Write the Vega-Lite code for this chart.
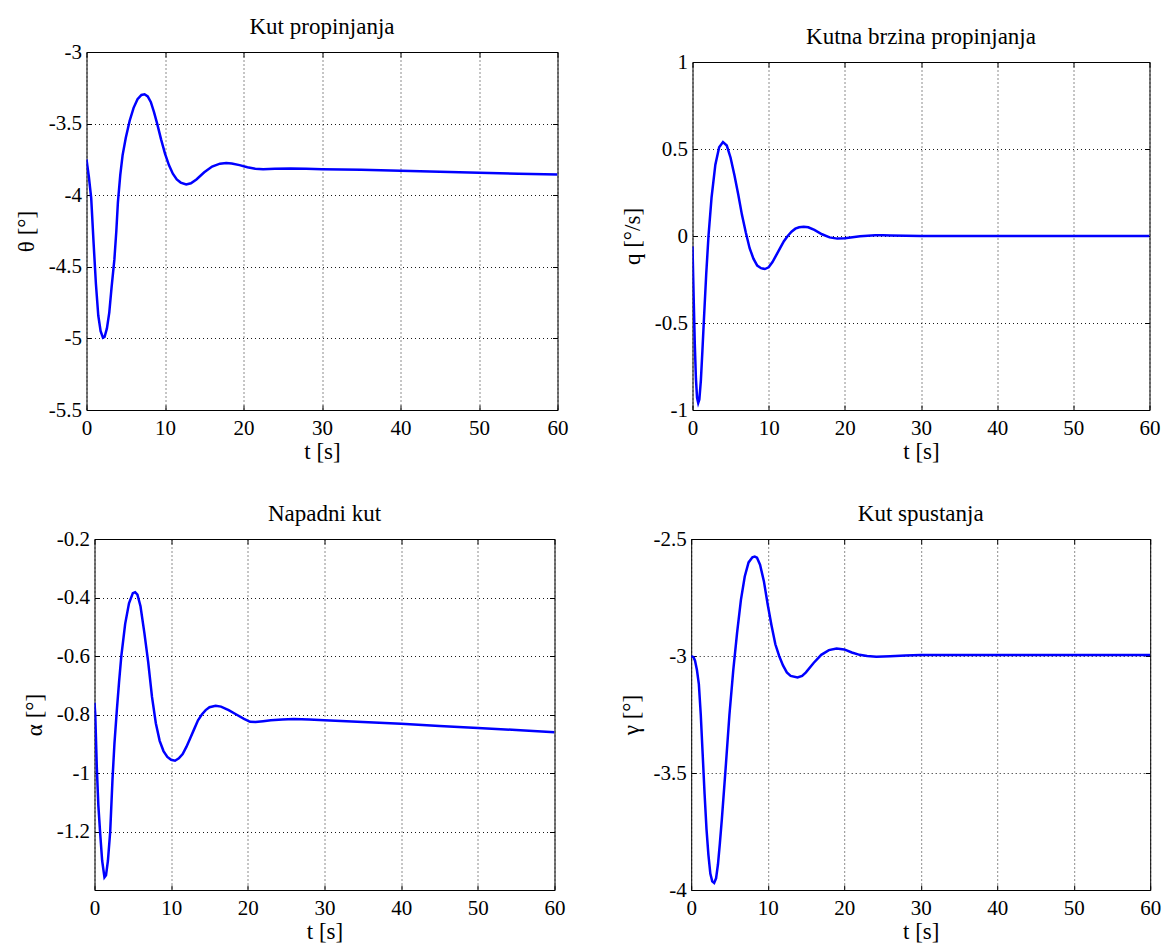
{
  "$schema": "https://vega.github.io/schema/vega-lite/v6.json",
  "padding": {"left": 14.5, "top": 15, "right": 0, "bottom": 0},
  "background": "white",
  "config": {
    "font": "Liberation Serif",
    "view": {"stroke": "#000", "strokeWidth": 1},
    "axis": {
      "domain": false,
      "grid": false,
      "labelFont": "Liberation Serif",
      "labelFontSize": 21,
      "labelColor": "#000",
      "labelFlush": false,
      "labelOverlap": false,
      "titleFont": "Liberation Serif",
      "titleFontSize": 23,
      "titleFontWeight": "normal",
      "titleColor": "#000",
      "tickColor": "#000",
      "tickSize": -5,
      "tickWidth": 1,
      "gridColor": "#000",
      "gridDash": [1, 3],
      "gridOpacity": 0.9,
      "gridWidth": 1
    },
    "axisX": {"labelPadding": 12, "titlePadding": 2},
    "axisY": {"labelPadding": 10, "titlePadding": 9.5},
    "title": {"font": "Liberation Serif", "fontSize": 23, "fontWeight": "normal", "color": "#000", "baseline": "alphabetic", "offset": 2, "frame": "group"}
  },
  "datasets": {
    "theta": [
      {"t": 0, "v": -3.75}, {"t": 0.3, "v": -3.87}, {"t": 0.6, "v": -4.02}, {"t": 0.9, "v": -4.33}, {"t": 1.2, "v": -4.62},
      {"t": 1.5, "v": -4.84}, {"t": 1.8, "v": -4.95}, {"t": 2.1, "v": -4.995}, {"t": 2.3, "v": -4.99}, {"t": 2.6, "v": -4.93},
      {"t": 2.9, "v": -4.82}, {"t": 3.2, "v": -4.64}, {"t": 3.55, "v": -4.45}, {"t": 3.8, "v": -4.25}, {"t": 4.0, "v": -4.05},
      {"t": 4.3, "v": -3.86}, {"t": 4.6, "v": -3.72}, {"t": 5.0, "v": -3.6}, {"t": 5.5, "v": -3.48}, {"t": 6.0, "v": -3.39},
      {"t": 6.5, "v": -3.33}, {"t": 7.0, "v": -3.3}, {"t": 7.4, "v": -3.295}, {"t": 7.8, "v": -3.31}, {"t": 8.2, "v": -3.35},
      {"t": 8.6, "v": -3.42}, {"t": 9.0, "v": -3.5}, {"t": 9.5, "v": -3.61}, {"t": 10.0, "v": -3.71}, {"t": 10.5, "v": -3.79},
      {"t": 11.0, "v": -3.85}, {"t": 11.5, "v": -3.89}, {"t": 12.0, "v": -3.912}, {"t": 12.7, "v": -3.925}, {"t": 13.3, "v": -3.917},
      {"t": 14, "v": -3.89}, {"t": 15, "v": -3.84}, {"t": 16, "v": -3.8}, {"t": 17, "v": -3.78}, {"t": 17.8, "v": -3.775},
      {"t": 18.5, "v": -3.778}, {"t": 19.5, "v": -3.79}, {"t": 20.5, "v": -3.805}, {"t": 21.5, "v": -3.815}, {"t": 22.5, "v": -3.818},
      {"t": 24, "v": -3.815}, {"t": 26, "v": -3.813}, {"t": 28, "v": -3.815}, {"t": 30, "v": -3.818}, {"t": 35, "v": -3.823},
      {"t": 40, "v": -3.83}, {"t": 45, "v": -3.836}, {"t": 50, "v": -3.843}, {"t": 55, "v": -3.85}, {"t": 60, "v": -3.856}
    ],
    "q": [
      {"t": 0, "v": -0.06}, {"t": 0.15, "v": -0.35}, {"t": 0.3, "v": -0.62}, {"t": 0.45, "v": -0.82}, {"t": 0.6, "v": -0.93},
      {"t": 0.75, "v": -0.96}, {"t": 0.9, "v": -0.94}, {"t": 1.1, "v": -0.83}, {"t": 1.3, "v": -0.66}, {"t": 1.5, "v": -0.48},
      {"t": 1.8, "v": -0.22}, {"t": 2.1, "v": 0.0}, {"t": 2.5, "v": 0.22}, {"t": 3.0, "v": 0.41}, {"t": 3.5, "v": 0.51},
      {"t": 4.0, "v": 0.54}, {"t": 4.5, "v": 0.52}, {"t": 5.0, "v": 0.45}, {"t": 5.5, "v": 0.35}, {"t": 6.0, "v": 0.24},
      {"t": 6.5, "v": 0.12}, {"t": 7.0, "v": 0.02}, {"t": 7.5, "v": -0.07}, {"t": 8.0, "v": -0.13}, {"t": 8.5, "v": -0.17},
      {"t": 9.0, "v": -0.185}, {"t": 9.5, "v": -0.19}, {"t": 10.0, "v": -0.18}, {"t": 10.5, "v": -0.15}, {"t": 11.0, "v": -0.11},
      {"t": 11.5, "v": -0.07}, {"t": 12.0, "v": -0.03}, {"t": 12.5, "v": 0.0}, {"t": 13.0, "v": 0.025}, {"t": 13.5, "v": 0.042},
      {"t": 14.0, "v": 0.05}, {"t": 14.6, "v": 0.053}, {"t": 15.2, "v": 0.05}, {"t": 16.0, "v": 0.035}, {"t": 17.0, "v": 0.01},
      {"t": 18.0, "v": -0.008}, {"t": 19.0, "v": -0.015}, {"t": 20.0, "v": -0.013}, {"t": 21.0, "v": -0.007}, {"t": 22.0, "v": -0.002},
      {"t": 23.0, "v": 0.002}, {"t": 24.0, "v": 0.004}, {"t": 25.0, "v": 0.004}, {"t": 26.0, "v": 0.003}, {"t": 28.0, "v": 0.001},
      {"t": 30, "v": 0}, {"t": 40, "v": 0}, {"t": 50, "v": 0}, {"t": 60, "v": 0}
    ],
    "alpha": [
      {"t": 0, "v": -0.76}, {"t": 0.1, "v": -0.8}, {"t": 0.3, "v": -0.98}, {"t": 0.5, "v": -1.11}, {"t": 0.75, "v": -1.21},
      {"t": 1.0, "v": -1.3}, {"t": 1.3, "v": -1.357}, {"t": 1.5, "v": -1.35}, {"t": 1.75, "v": -1.3}, {"t": 2.05, "v": -1.2},
      {"t": 2.35, "v": -1.02}, {"t": 2.6, "v": -0.9}, {"t": 2.9, "v": -0.79}, {"t": 3.2, "v": -0.69}, {"t": 3.5, "v": -0.6},
      {"t": 4.0, "v": -0.49}, {"t": 4.5, "v": -0.42}, {"t": 5.0, "v": -0.385}, {"t": 5.3, "v": -0.382}, {"t": 5.6, "v": -0.39},
      {"t": 6.0, "v": -0.43}, {"t": 6.5, "v": -0.52}, {"t": 7.0, "v": -0.62}, {"t": 7.5, "v": -0.74}, {"t": 8.0, "v": -0.83},
      {"t": 8.5, "v": -0.89}, {"t": 9.0, "v": -0.925}, {"t": 9.5, "v": -0.945}, {"t": 10.0, "v": -0.955}, {"t": 10.5, "v": -0.958},
      {"t": 11.0, "v": -0.95}, {"t": 11.5, "v": -0.935}, {"t": 12.0, "v": -0.91}, {"t": 12.5, "v": -0.88}, {"t": 13, "v": -0.85},
      {"t": 13.5, "v": -0.82}, {"t": 14, "v": -0.8}, {"t": 14.5, "v": -0.785}, {"t": 15.0, "v": -0.775}, {"t": 15.8, "v": -0.77},
      {"t": 16.5, "v": -0.773}, {"t": 17.5, "v": -0.785}, {"t": 18.5, "v": -0.8}, {"t": 19.5, "v": -0.815}, {"t": 20.3, "v": -0.825},
      {"t": 21, "v": -0.826}, {"t": 22, "v": -0.823}, {"t": 23, "v": -0.82}, {"t": 24.5, "v": -0.817}, {"t": 26, "v": -0.815},
      {"t": 28, "v": -0.817}, {"t": 30, "v": -0.82}, {"t": 35, "v": -0.826}, {"t": 40, "v": -0.832}, {"t": 45, "v": -0.839},
      {"t": 50, "v": -0.846}, {"t": 55, "v": -0.853}, {"t": 60, "v": -0.861}
    ],
    "gamma": [
      {"t": 0, "v": -3.0}, {"t": 0.3, "v": -3.005}, {"t": 0.5, "v": -3.02}, {"t": 0.75, "v": -3.06}, {"t": 1.0, "v": -3.12},
      {"t": 1.25, "v": -3.25}, {"t": 1.5, "v": -3.42}, {"t": 1.75, "v": -3.59}, {"t": 2.0, "v": -3.74}, {"t": 2.25, "v": -3.85},
      {"t": 2.5, "v": -3.93}, {"t": 2.75, "v": -3.963}, {"t": 3.0, "v": -3.97}, {"t": 3.25, "v": -3.95}, {"t": 3.5, "v": -3.89},
      {"t": 3.75, "v": -3.8}, {"t": 4.0, "v": -3.7}, {"t": 4.5, "v": -3.48}, {"t": 5.0, "v": -3.25}, {"t": 5.5, "v": -3.06},
      {"t": 6.0, "v": -2.9}, {"t": 6.5, "v": -2.76}, {"t": 7.0, "v": -2.66}, {"t": 7.5, "v": -2.6}, {"t": 8.0, "v": -2.578},
      {"t": 8.3, "v": -2.575}, {"t": 8.6, "v": -2.58}, {"t": 9.0, "v": -2.61}, {"t": 9.5, "v": -2.68}, {"t": 10.0, "v": -2.78},
      {"t": 10.5, "v": -2.87}, {"t": 11.0, "v": -2.95}, {"t": 11.5, "v": -3.0}, {"t": 12.0, "v": -3.04}, {"t": 12.5, "v": -3.07},
      {"t": 13.0, "v": -3.085}, {"t": 13.9, "v": -3.092}, {"t": 14.5, "v": -3.085}, {"t": 15.0, "v": -3.07}, {"t": 16.0, "v": -3.03},
      {"t": 17.0, "v": -2.995}, {"t": 18.0, "v": -2.975}, {"t": 19.0, "v": -2.968}, {"t": 20.0, "v": -2.972}, {"t": 21.0, "v": -2.985},
      {"t": 22.0, "v": -2.995}, {"t": 23.0, "v": -3.0}, {"t": 24.2, "v": -3.003}, {"t": 26.0, "v": -3.001}, {"t": 28, "v": -2.998},
      {"t": 30, "v": -2.996}, {"t": 40, "v": -2.996}, {"t": 50, "v": -2.996}, {"t": 60, "v": -2.996}
    ]
  },
  "vconcat": [
    {
      "hconcat": [
        {
          "width": 471, "height": 358,
          "title": "Kut propinjanja",
          "data": {"name": "theta"},
          "layer": [
            {
              "mark": {"type": "line", "color": "#0000ff", "strokeWidth": 2.5, "clip": true},
              "encoding": {
                "x": {"field": "t", "type": "quantitative", "scale": {"domain": [0, 60], "nice": false}, "axis": {"orient": "bottom", "title": "t [s]", "grid": true, "values": [0, 10, 20, 30, 40, 50, 60], "labelExpr": "datum.value < 0 ? '-' + format(-datum.value, '~g') : format(datum.value, '~g')"}},
                "y": {"field": "v", "type": "quantitative", "scale": {"domain": [-5.5, -3], "nice": false, "zero": false}, "axis": {"orient": "left", "title": "θ [°]", "grid": true, "values": [-5.5, -5, -4.5, -4, -3.5, -3], "labelExpr": "datum.value < 0 ? '-' + format(-datum.value, '~g') : format(datum.value, '~g')"}}
              }
            },
            {
              "mark": {"type": "line", "opacity": 0},
              "encoding": {
                "x": {"field": "t", "type": "quantitative", "scale": {"domain": [0, 60], "nice": false}, "axis": {"orient": "top", "title": null, "labels": false, "grid": false, "values": [0, 10, 20, 30, 40, 50, 60]}},
                "y": {"field": "v", "type": "quantitative", "scale": {"domain": [-5.5, -3], "nice": false, "zero": false}, "axis": {"orient": "right", "title": null, "labels": false, "grid": false, "values": [-5.5, -5, -4.5, -4, -3.5, -3]}}
              }
            }
          ],
          "resolve": {"axis": {"x": "independent", "y": "independent"}}
        },
        {
          "vconcat": [
            {"width": 457, "height": 10, "data": {"values": []}, "mark": "point", "encoding": {}, "view": {"stroke": null}},
            {
              "width": 457, "height": 348,
              "title": "Kutna brzina propinjanja",
              "data": {"name": "q"},
              "layer": [
                {
                  "mark": {"type": "line", "color": "#0000ff", "strokeWidth": 2.5, "clip": true},
                  "encoding": {
                    "x": {"field": "t", "type": "quantitative", "scale": {"domain": [0, 60], "nice": false}, "axis": {"orient": "bottom", "title": "t [s]", "grid": true, "values": [0, 10, 20, 30, 40, 50, 60], "labelExpr": "datum.value < 0 ? '-' + format(-datum.value, '~g') : format(datum.value, '~g')"}},
                    "y": {"field": "v", "type": "quantitative", "scale": {"domain": [-1, 1], "nice": false, "zero": false}, "axis": {"orient": "left", "title": "q [°/s]", "grid": true, "values": [-1, -0.5, 0, 0.5, 1], "labelExpr": "datum.value < 0 ? '-' + format(-datum.value, '~g') : format(datum.value, '~g')"}}
                  }
                },
                {
                  "mark": {"type": "line", "opacity": 0},
                  "encoding": {
                    "x": {"field": "t", "type": "quantitative", "scale": {"domain": [0, 60], "nice": false}, "axis": {"orient": "top", "title": null, "labels": false, "grid": false, "values": [0, 10, 20, 30, 40, 50, 60]}},
                    "y": {"field": "v", "type": "quantitative", "scale": {"domain": [-1, 1], "nice": false, "zero": false}, "axis": {"orient": "right", "title": null, "labels": false, "grid": false, "values": [-1, -0.5, 0, 0.5, 1]}}
                  }
                }
              ],
              "resolve": {"axis": {"x": "independent", "y": "independent"}}
            }
          ],
          "spacing": 0,
          "bounds": "flush"
        }
      ],
      "spacing": 135,
      "bounds": "flush"
    },
    {
      "hconcat": [
        {"width": 7.3, "height": 10, "data": {"values": []}, "mark": "point", "encoding": {}, "view": {"stroke": null}},
        {
          "hconcat": [
            {
              "width": 460, "height": 351,
              "title": "Napadni kut",
              "data": {"name": "alpha"},
              "layer": [
                {
                  "mark": {"type": "line", "color": "#0000ff", "strokeWidth": 2.5, "clip": true},
                  "encoding": {
                    "x": {"field": "t", "type": "quantitative", "scale": {"domain": [0, 60], "nice": false}, "axis": {"orient": "bottom", "title": "t [s]", "grid": true, "values": [0, 10, 20, 30, 40, 50, 60], "labelExpr": "datum.value < 0 ? '-' + format(-datum.value, '~g') : format(datum.value, '~g')"}},
                    "y": {"field": "v", "type": "quantitative", "scale": {"domain": [-1.4, -0.2], "nice": false, "zero": false}, "axis": {"orient": "left", "title": "α [°]", "grid": true, "values": [-1.2, -1, -0.8, -0.6, -0.4, -0.2], "labelExpr": "datum.value < 0 ? '-' + format(-datum.value, '~g') : format(datum.value, '~g')"}}
                  }
                },
                {
                  "mark": {"type": "line", "opacity": 0},
                  "encoding": {
                    "x": {"field": "t", "type": "quantitative", "scale": {"domain": [0, 60], "nice": false}, "axis": {"orient": "top", "title": null, "labels": false, "grid": false, "values": [0, 10, 20, 30, 40, 50, 60]}},
                    "y": {"field": "v", "type": "quantitative", "scale": {"domain": [-1.4, -0.2], "nice": false, "zero": false}, "axis": {"orient": "right", "title": null, "labels": false, "grid": false, "values": [-1.2, -1, -0.8, -0.6, -0.4, -0.2]}}
                  }
                }
              ],
              "resolve": {"axis": {"x": "independent", "y": "independent"}}
            },
            {
              "width": 459, "height": 351,
              "title": "Kut spustanja",
              "data": {"name": "gamma"},
              "layer": [
                {
                  "mark": {"type": "line", "color": "#0000ff", "strokeWidth": 2.5, "clip": true},
                  "encoding": {
                    "x": {"field": "t", "type": "quantitative", "scale": {"domain": [0, 60], "nice": false}, "axis": {"orient": "bottom", "title": "t [s]", "grid": true, "values": [0, 10, 20, 30, 40, 50, 60], "labelExpr": "datum.value < 0 ? '-' + format(-datum.value, '~g') : format(datum.value, '~g')"}},
                    "y": {"field": "v", "type": "quantitative", "scale": {"domain": [-4, -2.5], "nice": false, "zero": false}, "axis": {"orient": "left", "title": "γ [°]", "grid": true, "values": [-4, -3.5, -3, -2.5], "labelExpr": "datum.value < 0 ? '-' + format(-datum.value, '~g') : format(datum.value, '~g')"}}
                  }
                },
                {
                  "mark": {"type": "line", "opacity": 0},
                  "encoding": {
                    "x": {"field": "t", "type": "quantitative", "scale": {"domain": [0, 60], "nice": false}, "axis": {"orient": "top", "title": null, "labels": false, "grid": false, "values": [0, 10, 20, 30, 40, 50, 60]}},
                    "y": {"field": "v", "type": "quantitative", "scale": {"domain": [-4, -2.5], "nice": false, "zero": false}, "axis": {"orient": "right", "title": null, "labels": false, "grid": false, "values": [-4, -3.5, -3, -2.5]}}
                  }
                }
              ],
              "resolve": {"axis": {"x": "independent", "y": "independent"}}
            }
          ],
          "spacing": 136.7,
          "bounds": "flush"
        }
      ],
      "spacing": 0,
      "bounds": "flush"
    }
  ],
  "spacing": 38,
  "bounds": "full"
}
